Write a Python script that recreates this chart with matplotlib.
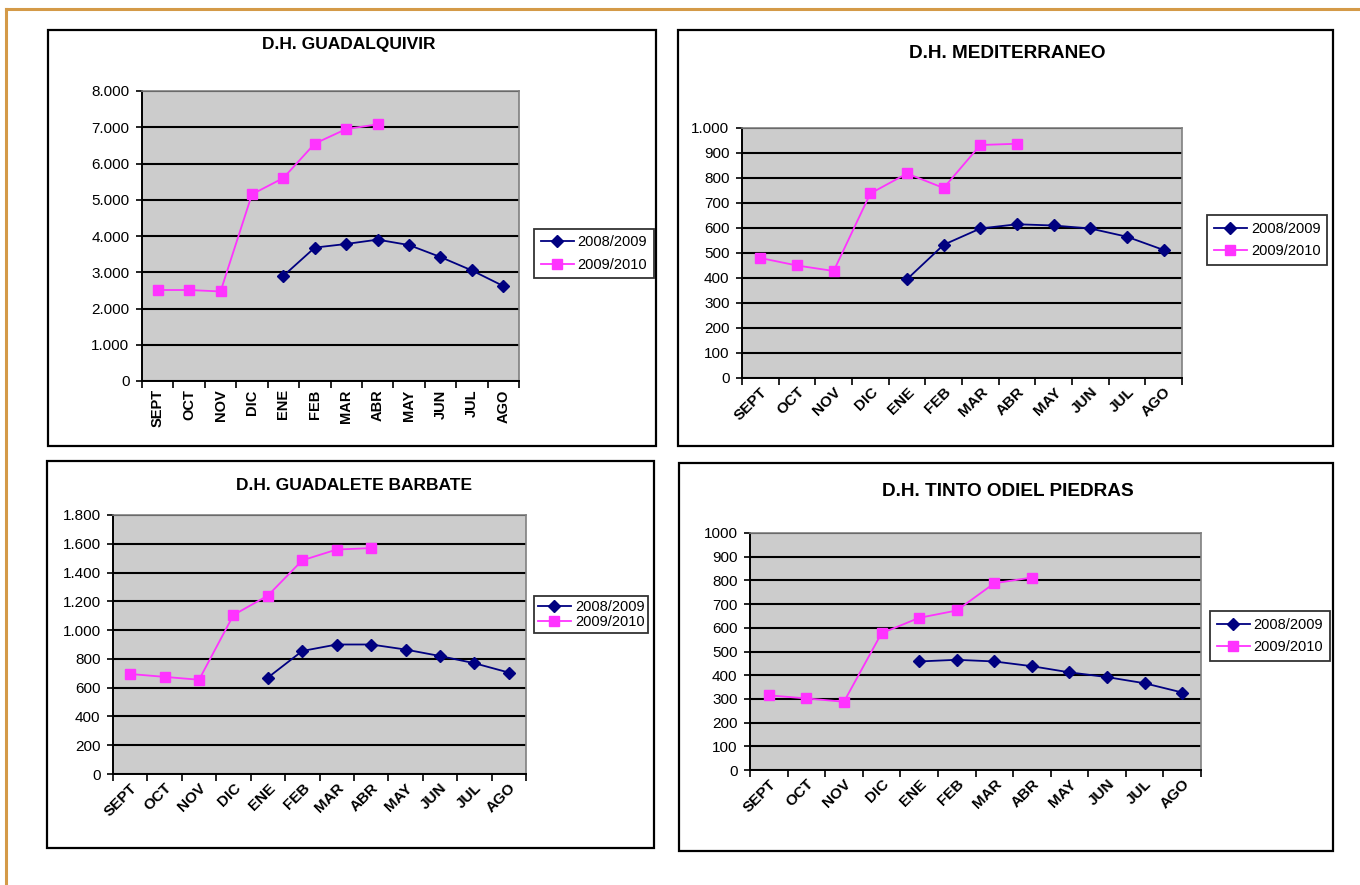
import matplotlib
matplotlib.use("Agg")
import matplotlib.pyplot as plt
from matplotlib.patches import Rectangle
from matplotlib.lines import Line2D
from matplotlib.ticker import FuncFormatter, FixedLocator

plt.rcParams['font.family'] = ['Liberation Sans', 'DejaVu Sans']

W, H = 1360, 885

months = ['SEPT', 'OCT', 'NOV', 'DIC', 'ENE', 'FEB', 'MAR', 'ABR', 'MAY', 'JUN', 'JUL', 'AGO']
series_names = ['2008/2009', '2009/2010']

# 2008/2009 starts in ENE, 2009/2010 stops after ABR
guadalquivir_0809 = [None, None, None, None, 2900, 3680, 3780, 3900, 3750, 3420, 3050, 2620]
guadalquivir_0910 = [2510, 2510, 2470, 5150, 5600, 6550, 6950, 7080, None, None, None, None]

mediterraneo_0809 = [None, None, None, None, 395, 533, 598, 615, 610, 598, 565, 512]
mediterraneo_0910 = [480, 450, 428, 738, 818, 760, 932, 937, None, None, None, None]

barbate_0809 = [None, None, None, None, 670, 855, 900, 900, 865, 820, 770, 705]
barbate_0910 = [695, 675, 655, 1105, 1240, 1485, 1560, 1570, None, None, None, None]

tinto_0809 = [None, None, None, None, 458, 465, 458, 438, 412, 392, 366, 327]
tinto_0910 = [315, 302, 288, 577, 642, 673, 788, 812, None, None, None, None]

NAVY = '#000080'
PINK = '#FF33FF'
BG = '#CCCCCC'


def frac(x0, y0, x1, y1):
    return [x0 / W, 1 - y1 / H, (x1 - x0) / W, (y1 - y0) / H]


def dot_thousands(v, pos):
    return '{:,.0f}'.format(v).replace(',', '.')


def plain(v, pos):
    return '{:.0f}'.format(v)


fig = plt.figure(figsize=(W / 100, H / 100), dpi=100)
fig.patch.set_facecolor('white')

# gold frame on top and left
fig.lines.append(Line2D([6 / W, 1], [1 - 9 / H, 1 - 9 / H], transform=fig.transFigure,
                        color='#D49A48', lw=2.2))
fig.lines.append(Line2D([6 / W, 6 / W], [1 - 9 / H, 0], transform=fig.transFigure,
                        color='#D49A48', lw=2.2))

panels = [
    dict(title='D.H. GUADALQUIVIR', box=(48, 30, 656, 446), plot=(142, 91, 519, 381),
         title_xy=(349, 44), legend=(534, 229, 652, 278), ymax=8000, step=1000,
         fmt=dot_thousands, rot=90, tsize=12.5, data=(guadalquivir_0809, guadalquivir_0910)),
    dict(title='D.H. MEDITERRANEO', box=(678, 30, 1333, 446), plot=(742, 128, 1182, 378),
         title_xy=(1007, 54), legend=(1207, 215, 1329, 265), ymax=1000, step=100,
         fmt=dot_thousands, rot=45, tsize=13.7, data=(mediterraneo_0809, mediterraneo_0910)),
    dict(title='D.H. GUADALETE BARBATE', box=(47, 461, 654, 848), plot=(113, 515, 526, 774),
         title_xy=(354, 486), legend=(534, 597, 652, 632), ymax=1800, step=200,
         fmt=dot_thousands, rot=45, tsize=12.5, data=(barbate_0809, barbate_0910)),
    dict(title='D.H. TINTO ODIEL PIEDRAS', box=(679, 463, 1333, 851), plot=(750, 533, 1201, 770),
         title_xy=(1008, 492), legend=(1210, 612, 1330, 660), ymax=1000, step=100,
         fmt=plain, rot=45, tsize=13.7, data=(tinto_0809, tinto_0910)),
]

for p in panels:
    bx0, by0, bx1, by1 = p['box']
    fig.patches.append(Rectangle((bx0 / W, 1 - by1 / H), (bx1 - bx0) / W, (by1 - by0) / H,
                                 transform=fig.transFigure, fill=False, ec='black', lw=1.6))

    ax = fig.add_axes(frac(*p['plot']))
    ax.set_facecolor(BG)
    xs = list(range(len(months)))
    s0, s1 = p['data']
    x0 = [x for x, v in zip(xs, s0) if v is not None]
    y0 = [v for v in s0 if v is not None]
    x1 = [x for x, v in zip(xs, s1) if v is not None]
    y1 = [v for v in s1 if v is not None]
    ax.plot(x0, y0, color=NAVY, lw=1.3, marker='D', ms=6, mfc=NAVY, mec=NAVY,
            label=series_names[0], zorder=3)
    ax.plot(x1, y1, color=PINK, lw=1.3, marker='s', ms=7, mfc=PINK, mec=PINK,
            label=series_names[1], zorder=3)

    ax.set_xlim(-0.5, len(months) - 0.5)
    ax.set_ylim(0, p['ymax'])
    yt = list(range(0, p['ymax'] + 1, p['step']))
    ax.set_yticks(yt)
    ax.yaxis.set_major_formatter(FuncFormatter(p['fmt']))
    ax.yaxis.grid(True, color='black', lw=1.5)
    ax.set_axisbelow(True)

    ax.xaxis.set_major_locator(FixedLocator([i - 0.5 for i in range(len(months) + 1)]))
    ax.xaxis.set_major_formatter(FuncFormatter(lambda v, pos: ''))
    ax.xaxis.set_minor_locator(FixedLocator(xs))
    ax.set_xticklabels(months, minor=True, fontweight='bold',
                       fontsize=10.5 if p['rot'] == 90 else 11)
    ax.tick_params(axis='x', which='major', direction='out', length=5, width=1.2, color='black')
    ax.tick_params(axis='x', which='minor', length=0)
    ax.tick_params(axis='y', direction='out', length=4, width=1.2, labelsize=11, pad=5)
    if p['rot'] == 90:
        for t in ax.get_xticklabels(minor=True):
            t.set_rotation(90)
            t.set_va('top')
            t.set_ha('center')
        ax.tick_params(axis='x', which='minor', pad=6)
    else:
        for t in ax.get_xticklabels(minor=True):
            t.set_rotation(45)
            t.set_ha('right')
            t.set_va('top')
            t.set_rotation_mode('anchor')
        ax.tick_params(axis='x', which='minor', pad=5)

    for side in ('left', 'bottom'):
        ax.spines[side].set_color('black')
        ax.spines[side].set_linewidth(1.4)
    for side in ('top', 'right'):
        ax.spines[side].set_color('#808080')
        ax.spines[side].set_linewidth(1.2)

    tx, ty = p['title_xy']
    fig.text(tx / W, 1 - ty / H, p['title'], ha='center', va='center', fontweight='bold',
             fontsize=p['tsize'])

    lx0, ly0, lx1, ly1 = p['legend']
    compact = (ly1 - ly0) < 40
    leg = ax.legend(loc='center left', bbox_to_anchor=(lx0 / W, 1 - (ly0 + ly1) / 2 / H),
                    bbox_transform=fig.transFigure, frameon=True, fancybox=False,
                    edgecolor='black', fontsize=10.5, handlelength=2.3, handletextpad=0.25,
                    borderpad=0.25 if compact else 0.45, labelspacing=0.05 if compact else 0.6,
                    borderaxespad=0)
    leg.get_frame().set_linewidth(1.3)

fig.savefig('out.png', dpi=100)
